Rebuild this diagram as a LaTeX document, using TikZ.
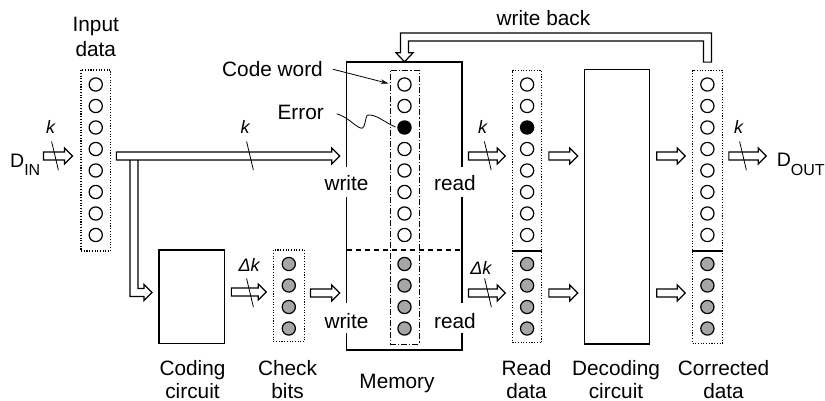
\documentclass[tikz,border=0pt]{standalone}
\usepackage{fontspec}
\setmainfont{Liberation Sans}
\usetikzlibrary{calc,arrows.meta}
\tikzset{
  lbl/.style={font=\fontsize{20.8}{25}\selectfont, inner sep=0pt, align=center},
  botlbl/.style={lbl, font=\fontsize{20.8}{23}\selectfont, anchor=north},
  bitlbl/.style={font=\fontsize{18}{20}\selectfont\itshape, inner sep=0pt},
  bit/.style={circle, draw, line width=1.2pt, minimum size=13.2pt, inner sep=0pt, fill=white},
  chkbit/.style={bit, fill=black!35},
  errbit/.style={bit, fill=black},
  reg/.style={draw, line width=1.1pt, dash pattern=on 1.1pt off 1.6pt, inner sep=0pt},
  block/.style={draw, line width=1.3pt, inner sep=0pt},
  wall/.style={line width=1.5pt},
  hollow/.style={draw, fill=white, line width=1.2pt, line join=miter},
  harrow/.style={hollow, to path={let \p1=(\tikztostart), \p2=(\tikztotarget) in
     (\x1,\y1+4pt) -- (\x2-8pt,\y1+4pt) -- (\x2-8pt,\y1+8pt) -- (\x2,\y1)
     -- (\x2-8pt,\y1-8pt) -- (\x2-8pt,\y1-4pt) -- (\x1,\y1-4pt) -- cycle}},
  tick/.style={line width=0.8pt},
  pointer/.style={line width=0.8pt},
}
\begin{document}
\begin{tikzpicture}[x=1pt,y=-1pt]
\useasboundingbox (0,0) rectangle (825,401);

% rows of the bus arrows and separator heights
\coordinate (rowA) at (0,156);
\coordinate (rowB) at (0,293);
\coordinate (sepY) at (0,251);
\coordinate (memsep) at (0,250);
\coordinate (wbY) at (0,37);

% registers and blocks
\node[reg, minimum width=29.5pt, minimum height=181pt] (inbox) at (95.75,160.5) {};
\node[reg, minimum width=31pt, minimum height=91.7pt] (chkbox) at (288.8,295.85) {};
\node[reg, minimum width=29.2pt, minimum height=272pt] (readbox) at (527.1,206.7) {};
\node[reg, minimum width=29.8pt, minimum height=272.6pt] (corrbox) at (707.4,207) {};
\node[draw, line width=0.8pt, dash pattern=on 6pt off 2pt on 1.2pt off 2pt,
      minimum width=29pt, minimum height=274pt, inner sep=0pt] (memcol) at (404.5,207) {};
\node[block, minimum width=65.3pt, minimum height=93.3pt] (coder) at (191.65,296.65) {};
\node[block, minimum width=65.1pt, minimum height=274.7pt] (decoder) at (616.75,206.65) {};
\node[minimum width=115pt, minimum height=288pt, inner sep=0pt] (mem) at (404.2,206) {};

% memory walls, broken for the write/read labels
\draw[wall] ($(mem.north west)+(0,105)$) -- (mem.north west) -- (mem.north east) -- ($(mem.north east)+(0,105)$);
\draw[wall] ($(mem.north west)+(0,135)$) -- ($(mem.north west)+(0,241)$);
\draw[wall] ($(mem.north east)+(0,135)$) -- ($(mem.north east)+(0,241)$);
\draw[wall] ($(mem.south west)+(0,-17)$) -- (mem.south west) -- (mem.south east) -- ($(mem.south east)+(0,-17)$);
\draw[line width=1.3pt, dash pattern=on 5.5pt off 3.5pt] (mem.west |- memsep) -- (mem.east |- memsep);

% separators between data and check bits
\draw[line width=1.3pt] (readbox.west |- sepY) -- (readbox.east |- sepY);
\draw[line width=1.3pt] (corrbox.west |- sepY) -- (corrbox.east |- sepY);

% data bits
\foreach \i in {0,...,7} {
  \node[bit] (in\i) at (95.75, 84.5+21.5*\i) {};
  \node[bit] (co\i) at (707.4, 84.5+21.5*\i) {};
}
\foreach \i/\s in {0/bit,1/bit,2/errbit,3/bit,4/bit,5/bit,6/bit,7/bit} {
  \node[\s] (me\i) at (404.5, 84.5+21.5*\i) {};
  \node[\s] (rd\i) at (527.1, 84.5+21.5*\i) {};
}
% check bits
\foreach \j in {0,...,3} {
  \node[chkbit] (cb\j) at (288.8, 264+21.5*\j) {};
  \node[chkbit] (mc\j) at (404.5, 264+21.5*\j) {};
  \node[chkbit] (rc\j) at (527.1, 264+21.5*\j) {};
  \node[chkbit] (cc\j) at (707.4, 264+21.5*\j) {};
}

% text labels
\node[anchor=base west, inner sep=0pt, font=\fontsize{19.5}{20}\selectfont] (din) at (10,167.5)
  {D\raisebox{-8.5pt}{\fontsize{16}{16}\selectfont IN}};
\node[anchor=base west, inner sep=0pt, font=\fontsize{19.5}{20}\selectfont] (dout) at (776.7,166.7)
  {D\raisebox{-8.5pt}{\fontsize{16}{16}\selectfont OUT}};
\node[lbl, anchor=north] (inlbl) at (95.75,17.3) {Input\\data};
\node[botlbl] (codlbl) at (192.5,360) {Coding\\circuit};
\node[botlbl] (chklbl) at (287.5,360) {Check\\bits};
\node[botlbl] (memlbl) at (397,374) {Memory};
\node[botlbl] (rdlbl) at (526.5,360) {Read\\data};
\node[botlbl] (declbl) at (616,360) {Decoding\\circuit};
\node[botlbl] (corlbl) at (723.5,360) {Corrected\\data};
\node[lbl, anchor=base] (wblbl) at (543.4,26) {write back};
\node[lbl, anchor=base east] (cw) at (323,76.7) {Code word};
\node[lbl, anchor=base east] (errl) at (324,120) {Error};
\node[lbl, anchor=base] (wr1) at (346.5,190) {write};
\node[lbl, anchor=base] (rd1) at (455,190) {read};
\node[lbl, anchor=base] (wr2) at (346.5,328) {write};
\node[lbl, anchor=base] (rd2) at (455,328) {read};

% bus widths
\node[bitlbl, anchor=base] (kin) at (50.5,134) {k};
\node[bitlbl, anchor=base] (kmain) at (245,134) {k};
\node[bitlbl, anchor=base] (kread) at (482.5,134) {k};
\node[bitlbl, anchor=base] (kout) at (738.5,134) {k};
\node[bitlbl, anchor=base] (dkcode) at (249.2,271) {Δk};
\node[bitlbl, anchor=base] (dkread) at (480.8,274) {Δk};

% branch to the coding circuit (drawn below the main bus)
\coordinate (brS) at ($(inbox.east |- rowA)+(23,4)$);
\coordinate (brE) at ($(coder.west |- rowB)+(-6.3,-0.5)$);
\draw[hollow] let \p1=(brS), \p2=(brE) in
  (\x1-4pt,\y1) -- (\x1-4pt,\y2-4pt) -- (\x2-8pt,\y2-4pt) -- (\x2-8pt,\y2-8pt) -- (\x2,\y2)
  -- (\x2-8pt,\y2+8pt) -- (\x2-8pt,\y2+4pt) -- (\x1+4pt,\y2+4pt) -- (\x1+4pt,\y1);

% data paths
\draw[harrow] ($(din.east |- rowA)+(3,0)$) to ($(inbox.west |- rowA)+(-8,0)$);
\draw[harrow] ($(inbox.east |- rowA)+(5.3,0)$) to ($(mem.west |- rowA)+(-6.7,0)$);
\draw[harrow] ($(coder.east |- rowB)+(6.4,-1)$) to ($(chkbox.west |- rowB)+(-6.6,-1)$);
\draw[harrow] ($(chkbox.east |- rowB)+(5.7,0)$) to ($(mem.west |- rowB)+(-6.7,0)$);
\draw[harrow] ($(mem.east |- rowA)+(6.6,0)$) to ($(readbox.west |- rowA)+(-6.8,0)$);
\draw[harrow] ($(mem.east |- rowB)+(6.6,0)$) to ($(readbox.west |- rowB)+(-6.8,0)$);
\draw[harrow] ($(readbox.east |- rowA)+(6.6,0)$) to ($(decoder.west |- rowA)+(-5.9,0)$);
\draw[harrow] ($(readbox.east |- rowB)+(6.6,0)$) to ($(decoder.west |- rowB)+(-5.9,0)$);
\draw[harrow] ($(decoder.east |- rowA)+(6.7,0)$) to ($(corrbox.west |- rowA)+(-6.8,0)$);
\draw[harrow] ($(decoder.east |- rowB)+(6.7,0)$) to ($(corrbox.west |- rowB)+(-6.8,0)$);
\draw[harrow] ($(corrbox.east |- rowA)+(6,0)$) to ($(dout.west |- rowA)+(-10.5,0)$);

% write back loop
\coordinate (wbS) at ($(corrbox.north)+(0,-8)$);
\coordinate (wbT) at (memcol.north |- mem.north);
\draw[hollow] let \p1=(wbS), \p2=(wbT), \p3=(wbY) in
  (\x1+4pt,\y1) -- (\x1+4pt,\y3+4pt) -- (\x2-4pt,\y3+4pt) -- (\x2-4pt,\y2+9pt)
  -- (\x2-8.5pt,\y2+9pt) -- (\x2,\y2) -- (\x2+8.5pt,\y2+9pt) -- (\x2+4pt,\y2+9pt)
  -- (\x2+4pt,\y3-4pt) -- (\x1-4pt,\y3-4pt) -- (\x1-4pt,\y1) -- cycle;

% bus width ticks
\coordinate (tk1) at (55,155.8);
\coordinate (tk2) at (250,155.8);
\coordinate (tk3) at (487.8,155.8);
\coordinate (tk4) at (743,155.8);
\coordinate (tk5) at (250,292.8);
\coordinate (tk6) at (488,292.8);
\foreach \t in {tk1,tk2,tk3,tk4,tk5,tk6}
  \draw[tick] ($(\t)+(-3.4,-14.3)$) -- ($(\t)+(3.4,14.3)$);

% pointers
\draw[pointer, -{Stealth[length=8pt, width=4.5pt]}] ($(cw.east)+(10,0)$) -- ($(me0)+(-16,-1)$);
\draw[pointer] ($(errl.east)+(12.7,0.8)$) .. controls +(13,4) and +(-6,0) .. ++(25.5,14.5)
  .. controls +(3,-1) and +(-2,3) .. ++(5,-13)
  .. controls +(8,-2) and +(-10,-4) .. ($(me2)+(-9,-0.5)$);
\end{tikzpicture}
\end{document}
